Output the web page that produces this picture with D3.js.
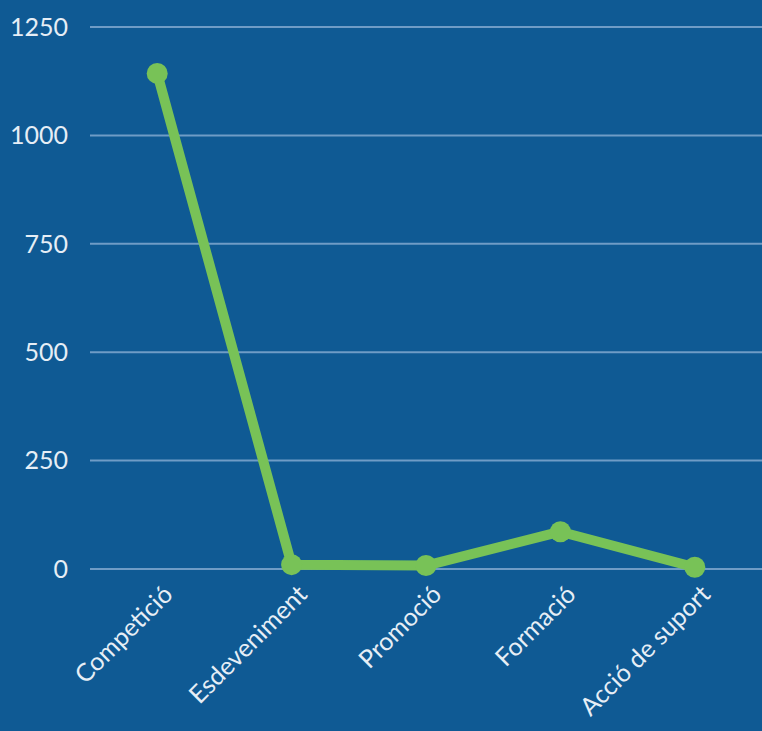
<!DOCTYPE html>
<html>
<head>
<meta charset="utf-8">
<script src="https://cdn.jsdelivr.net/npm/d3@7"></script>
<style>
  html, body { margin: 0; padding: 0; background: #0f5a94; overflow: hidden; }
  svg { display: block; }
  text { font-family: Lato, "Open Sans", sans-serif; fill: #e6eef6; }
</style>
</head>
<body>
<script>
"use strict"

// Data
const categories = ["Competició", "Esdeveniment", "Promoció", "Formació", "Acció de suport"]
const values     = [1143, 10, 8, 86, 4]
const yTicks     = [0, 250, 500, 750, 1000, 1250]

const width  = 762
const height = 731
const margin = { top : 27, right : 0, bottom : 162, left : 90 }

const svg = d3.select("body").append("svg")
  .attr("width", width)
  .attr("height", height)

svg.append("rect")
  .attr("width", width)
  .attr("height", height)
  .attr("fill", "#0f5a94")

const x = d3.scalePoint()
  .domain(categories)
  .range([margin.left, width - margin.right])
  .padding(0.5)

const y = d3.scaleLinear()
  .domain([0, 1250])
  .range([height - margin.bottom, margin.top])

// gridlines
svg.append("g")
  .selectAll("line")
  .data(yTicks)
  .join("line")
    .attr("x1", margin.left)
    .attr("x2", width - margin.right)
    .attr("y1", d => y(d))
    .attr("y2", d => y(d))
    .attr("stroke", "#6f9cc6")
    .attr("stroke-width", 2)

// y tick labels
svg.append("g")
  .selectAll("text")
  .data(yTicks)
  .join("text")
    .attr("x", 68)
    .attr("y", d => y(d))
    .attr("dy", "0.35em")
    .attr("text-anchor", "end")
    .attr("font-size", 25)
    .text(d => d)

// category labels
svg.append("g")
  .selectAll("text")
  .data(categories)
  .join("text")
    .attr("transform", d => `translate(${x(d) + 17} ${y(0) + 27}) rotate(-45)`)
    .attr("text-anchor", "end")
    .attr("font-size", 25)
    .text(d => d)

// line
const line = d3.line()
  .x((d, i) => x(categories[i]))
  .y(d => y(d))

svg.append("path")
  .datum(values)
  .attr("d", line)
  .attr("fill", "none")
  .attr("stroke", "#78c257")
  .attr("stroke-width", 10)
  .attr("stroke-linejoin", "round")

svg.append("g")
  .selectAll("circle")
  .data(values)
  .join("circle")
    .attr("cx", (d, i) => x(categories[i]))
    .attr("cy", d => y(d))
    .attr("r", 10.5)
    .attr("fill", "#78c257")
</script>
</body>
</html>
